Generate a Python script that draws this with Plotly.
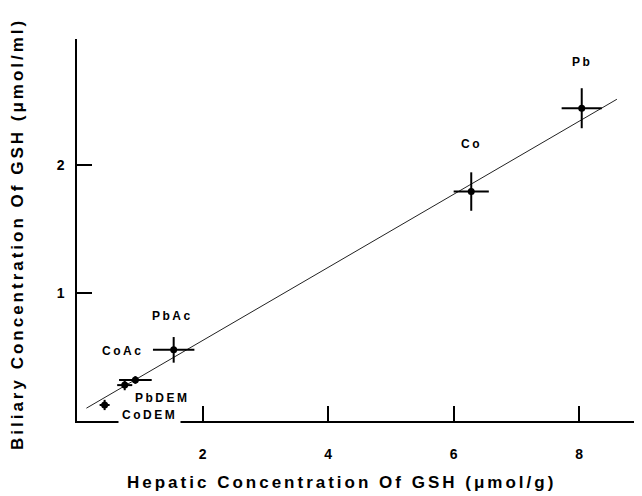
import plotly.graph_objects as go

# points
labels = ['Pb', 'Co', 'PbAc', 'CoAc', 'PbDEM', 'CoDEM']
hepatic = [8.04, 6.28, 1.54, 0.93, 0.76, 0.44]
biliary = [2.44, 1.79, 0.555, 0.32, 0.28, 0.125]
hepatic_err = [0.32, 0.28, 0.33, 0.26, 0.12, 0.08]
biliary_err = [0.156, 0.15, 0.10, 0.03, 0.04, 0.04]

fit_x = [0.15, 8.6]
fit_y = [0.10, 2.51]

tick_x = [2, 4, 6, 8]
tick_y = [1, 2]

x_title = 'Hepatic Concentration Of GSH (μmol/g)'
y_title = 'Biliary Concentration Of GSH (μmol/ml)'

FONT = 'Liberation Sans, Arial, sans-serif'


def spaced(s, px=2):
    return '<span style="letter-spacing:%spx">%s</span>' % (px, s)


fig = go.Figure()
fig.add_trace(go.Scatter(x=fit_x, y=fit_y, mode='lines',
                         line=dict(color='#222', width=1), showlegend=False))
fig.add_trace(go.Scatter(x=hepatic, y=biliary, mode='markers',
                         marker=dict(color='black', size=7),
                         error_x=dict(type='data', array=hepatic_err, color='black', thickness=2, width=0),
                         error_y=dict(type='data', array=biliary_err, color='black', thickness=2, width=0),
                         showlegend=False))

# label positions (data coords)
label_pos = {
    'Pb': (8.05, 2.80),
    'Co': (6.28, 2.16),
    'PbAc': (1.52, 0.82),
    'CoAc': (0.73, 0.55),
    'PbDEM': (1.36, 0.18),
    'CoDEM': (1.16, 0.05),
}
for name in labels:
    lx, ly = label_pos[name]
    fig.add_annotation(x=lx, y=ly, text=spaced(name, 2.5), showarrow=False,
                       font=dict(family=FONT, size=12, color='black', weight='bold'),
                       bgcolor='white' if name == 'CoDEM' else None, borderpad=3)

# axis titles as annotations so they can sit where the original has them
fig.add_annotation(xref='paper', yref='paper', x=0.469, y=-0.16, text=spaced(x_title, 3),
                   showarrow=False, xanchor='center', yanchor='middle',
                   font=dict(family=FONT, size=17, color='black', weight='bold'))
fig.add_annotation(xref='paper', yref='paper', x=-0.104, y=0.49, text=spaced(y_title, 3),
                   showarrow=False, textangle=-90, xanchor='center', yanchor='middle',
                   font=dict(family=FONT, size=17, color='black', weight='bold'))

# page body adds an 8px margin, so the figure is 8px smaller and shifted
fig.update_layout(
    width=634, height=488,
    margin=dict(l=69, r=0, t=31, b=75),
    plot_bgcolor='white', paper_bgcolor='white',
    font=dict(family=FONT, color='black', weight='bold'),
    xaxis=dict(range=[0, 9.0], tickvals=tick_x, ticks='inside', ticklen=15, tickwidth=1.5,
               tickcolor='black', showline=True, linecolor='black', linewidth=1.5,
               showgrid=False, zeroline=False, ticklabelstandoff=19,
               tickfont=dict(family=FONT, size=14, weight='bold')),
    yaxis=dict(range=[0, 2.98], tickvals=tick_y, ticks='inside', ticklen=15, tickwidth=1.5,
               tickcolor='black', showline=True, linecolor='black', linewidth=1.5,
               showgrid=False, zeroline=False, ticklabelstandoff=8,
               tickfont=dict(family=FONT, size=14, weight='bold')),
)

fig.write_html("out.html")
